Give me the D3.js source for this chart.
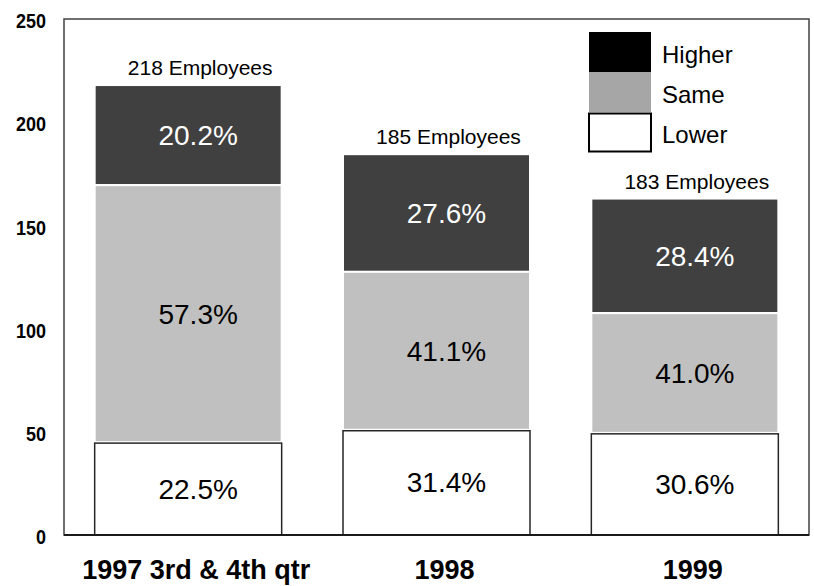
<!doctype HTML>
<html lang="en">
<head>
<title>Employees: higher, same, lower</title>
<script src="https://d3js.org/d3.v7.min.js"></script>
<style type="text/css">
  body { margin: 0; background: #fff; }
  text { font-family: "Liberation Sans", Arial, sans-serif; }
  .tick-label { font-size: 18px; font-weight: bold; }
  .cat-label { font-size: 27px; font-weight: bold; }
</style>
</head>
<body>
<script type="text/javascript">

// data
var categories = ["1997 3rd & 4th qtr", "1998", "1999"];
var lowerValues  = [45, 51, 49.5];
var sameValues   = [124.5, 76.5, 58];
var higherValues = [48.5, 57, 55.5];
var lowerPct  = ["22.5%", "31.4%", "30.6%"];
var samePct   = ["57.3%", "41.1%", "41.0%"];
var higherPct = ["20.2%", "27.6%", "28.4%"];
var employees = [218, 185, 183];
var yTicks = [0, 50, 100, 150, 200, 250];
var legendNames = ["Higher", "Same", "Lower"];

var width = 814, height = 586;
var plot = {left: 64, right: 809, top: 19, bottom: 535};

var svg = d3.select("body").append("svg")
	.attr("width", width)
	.attr("height", height);

var x = d3.scaleBand()
	.domain(categories)
	.range([plot.left, plot.right])
	.paddingInner(0.247)
	.paddingOuter(0.1235);

var y = d3.scaleLinear()
	.domain([0, 250])
	.range([plot.bottom, plot.top]);

// build rows for the stack
var rows = categories.map(function(c, i) {
	return {cat: c, lower: lowerValues[i], same: sameValues[i], higher: higherValues[i],
		lowerPct: lowerPct[i], samePct: samePct[i], higherPct: higherPct[i], n: employees[i]};
});
var series = d3.stack().keys(["lower", "same", "higher"])(rows);

var fills = {lower: "#ffffff", same: "#c0c0c0", higher: "#404040"};
var labelColours = {lower: "#000", same: "#000", higher: "#fff"};

// plot frame
svg.append("rect")
	.attr("x", plot.left)
	.attr("y", plot.top)
	.attr("width", plot.right - plot.left)
	.attr("height", plot.bottom - plot.top)
	.attr("fill", "none")
	.attr("stroke", "#404040")
	.attr("stroke-width", 1.5);

// y axis labels (no tick marks), drawn a bit tall like the original
var yAxis = d3.axisLeft(y).tickValues(yTicks).tickSize(0).tickPadding(18);
var yg = svg.append("g")
	.attr("transform", "translate(" + plot.left + ",2)")
	.call(yAxis);
yg.select(".domain").remove();
yg.selectAll("text").attr("class", "tick-label").attr("fill", "#000")
	.attr("transform", "scale(1,1.15)")
	.style("font-family", "'Liberation Sans', Arial, sans-serif");

// bars: draw top segments first so the lower box outline stays on top
series.slice().reverse().forEach(function(s) {
	var g = svg.append("g");
	g.selectAll("rect")
		.data(s)
		.enter()
		.append("rect")
		.attr("x", function(d) { return x(d.data.cat); })
		.attr("y", function(d) { return y(d[1]) + (s.key == "lower" ? 1 : 0); })
		.attr("width", x.bandwidth())
		.attr("height", function(d) { return y(d[0]) - y(d[1]) - (s.key == "lower" ? 1 : 0); })
		.attr("fill", fills[s.key])
		.attr("stroke", s.key == "lower" ? "#262626" : "#ffffff")
		.attr("stroke-width", s.key == "lower" ? 1.5 : 2);

	g.selectAll("text")
		.data(s)
		.enter()
		.append("text")
		.attr("x", function(d) { return x(d.data.cat) + x.bandwidth() / 2 + 10; })
		.attr("y", function(d) { return (y(d[0]) + y(d[1])) / 2; })
		.attr("dy", "0.36em")
		.attr("text-anchor", "middle")
		.attr("font-size", 28)
		.attr("fill", labelColours[s.key])
		.text(function(d) { return d.data[s.key + "Pct"]; });
});

// bottom axis line
svg.append("line")
	.attr("x1", plot.left)
	.attr("x2", plot.right)
	.attr("y1", plot.bottom)
	.attr("y2", plot.bottom)
	.attr("stroke", "#1a1a1a")
	.attr("stroke-width", 2);

// employee counts above bars
var topSeries = series[series.length - 1];
svg.append("g").selectAll("text")
	.data(topSeries)
	.enter()
	.append("text")
	.attr("x", function(d) { return x(d.data.cat) + x.bandwidth() / 2 + 12; })
	.attr("y", function(d) { return y(d[1]) - 10; })
	.attr("text-anchor", "middle")
	.attr("font-size", 21)
	.attr("fill", "#000")
	.text(function(d) { return d.data.n + " Employees"; });

// category labels
svg.append("g").selectAll("text")
	.data(categories)
	.enter()
	.append("text")
	.attr("class", "cat-label")
	.attr("x", function(d) { return x(d) + x.bandwidth() / 2 + 8; })
	.attr("y", 579)
	.attr("text-anchor", "middle")
	.attr("fill", "#000")
	.text(function(d) { return d; });

// legend
var legendFills = ["#000000", "#a6a6a6", "#ffffff"];
var legend = svg.append("g").attr("transform", "translate(589,32)");
legend.selectAll("rect")
	.data(legendNames)
	.enter()
	.append("rect")
	.attr("x", 0)
	.attr("y", function(d, i) { return i * 40 + (i == 2 ? 1.5 : 0); })
	.attr("width", 62)
	.attr("height", function(d, i) { return i == 2 ? 38 : 40; })
	.attr("fill", function(d, i) { return legendFills[i]; })
	.attr("stroke", function(d, i) { return i == 2 ? "#000" : "none"; })
	.attr("stroke-width", 2);
legend.selectAll("text")
	.data(legendNames)
	.enter()
	.append("text")
	.attr("x", 73)
	.attr("y", function(d, i) { return i * 40 + 22; })
	.attr("dy", "0.36em")
	.attr("font-size", 24)
	.attr("fill", "#000")
	.text(function(d) { return d; });

</script>
</body>
</html>
